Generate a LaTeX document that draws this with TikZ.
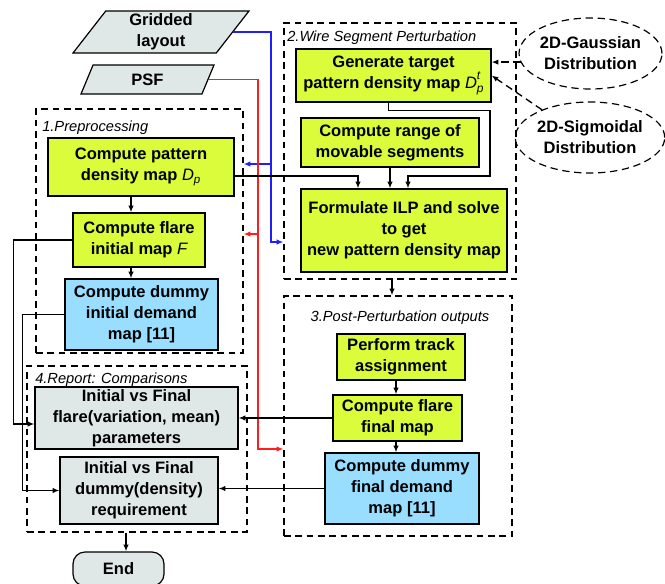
\documentclass[tikz,border=0pt]{standalone}
\usepackage{fontspec}
\setmainfont{Liberation Sans}
\usepackage{xcolor}
\usepackage{tikz}
\usetikzlibrary{shapes.geometric,arrows.meta,calc}

\definecolor{stepgreen}{RGB}{218,252,58}
\definecolor{dummyblue}{RGB}{153,221,255}
\definecolor{reportgray}{RGB}{224,231,231}
\definecolor{psfred}{RGB}{255,30,30}
\definecolor{gridblue}{RGB}{30,30,255}

\newcommand{\Dmap}{{\mdseries\itshape D\textsubscript{p}}}
\newcommand{\Dtarget}{{\mdseries\itshape D\rlap{\raisebox{1.0ex}{\fontsize{9}{9}\selectfont t}}\raisebox{-0.45ex}{\fontsize{9}{9}\selectfont p}}}

\begin{document}
\begin{tikzpicture}[x=0.75pt,y=0.75pt,yscale=-1,xscale=1,
  font=\fontsize{12.4}{15.7}\selectfont\bfseries,
  sz/.style 2 args={minimum width=#1*0.75pt,minimum height=#2*0.75pt},
  box/.style={draw,line width=0.9pt,inner sep=1pt,align=center},
  stepbox/.style={box,fill=stepgreen},
  dummybox/.style={box,fill=dummyblue},
  reportbox/.style={box,fill=reportgray},
  inbox/.style={trapezium,trapezium left angle=50,trapezium right angle=130,trapezium stretches body,draw,line width=0.9pt,fill=reportgray,inner sep=1pt,align=center},
  distr/.style={ellipse,draw,dash pattern=on 5.5pt off 3.5pt,line width=0.9pt,align=center,inner sep=0pt},
  grp/.style={draw,dash pattern=on 5pt off 3.5pt,line width=0.9pt},
  grplabel/.style={font=\fontsize{11}{13}\selectfont\itshape,inner sep=0pt},
  arr/.style={-{Latex[length=5pt,width=4pt]},line width=1pt}]

\useasboundingbox (0,0) rectangle (665,583);

\node[grp,sz={207}{244}] (g1) at (139.5,231) {};
\node[grp,sz={232}{256}] (g2) at (400,151) {};
\node[grp,sz={228}{240}] (g3) at (398,416) {};
\node[grp,sz={220}{166}] (g4) at (137,449) {};

\node[grplabel,anchor=base west] (g1t) at (42,131) {1.Preprocessing};
\node[grplabel,anchor=base west] (g2t) at (287,41) {2.Wire Segment Perturbation};
\node[grplabel,anchor=base] (g3t) at (400,321) {3.Post-Perturbation outputs};
\node[grplabel,anchor=base west] (g4t) at (35,383) {4.Report: Comparisons};

\node[inbox,sz={176}{42}] (grid) at (161,32) {Gridded\\layout};
\node[inbox,sz={133}{29}] (psf) at (147.5,79.5) {PSF};

\node[stepbox,sz={186}{58}] (cpd) at (141,167) {Compute pattern\\density map \Dmap};
\node[stepbox,sz={132}{54}] (cfi) at (139,240) {Compute flare\\initial map {\mdseries\itshape F}};
\node[dummybox,sz={153}{71}] (cdi) at (141.5,314.5) {Compute dummy\\initial demand\\map [11]};

\node[reportbox,sz={203}{62}] (rfl) at (136.5,418) {Initial vs Final\\flare(variation, mean)\\parameters};
\node[reportbox,sz={158}{67}] (rdm) at (139,490.5) {Initial vs Final\\dummy(density)\\requirement};
\node[reportbox,rounded corners=9pt,sz={91}{34}] (end) at (118.5,569) {End};

\node[stepbox,sz={195}{53}] (gen) at (393.5,75.5) {Generate target\\pattern density map \Dtarget};
\node[stepbox,sz={178}{49}] (rng) at (390,142.5) {Compute range of\\movable segments};
\node[stepbox,sz={206}{83}] (ilp) at (404,230.5) {Formulate ILP and solve\\to get\\new pattern density map};

\node[distr,sz={125}{71}] (gau) at (590.5,53.5) {2D-Gaussian\\Distribution};
\node[distr,sz={126}{71}] (sig) at (590,137.5) {2D-Sigmoidal\\Distribution};

\node[stepbox,sz={128}{46}] (trk) at (401,357) {Perform track\\assignment};
\node[stepbox,sz={129}{46}] (cff) at (397.5,418) {Compute flare\\final map};
\node[dummybox,sz={154}{71}] (cdf) at (402,488.5) {Compute dummy\\final demand\\map [11]};

\coordinate (bt) at (271,242);
\coordinate (bm) at (271,164);
\coordinate (rt) at (258,449);
\coordinate (rm) at (258,234);
\coordinate (gbend) at (490,176);

\draw[arr,gridblue] (grid.east) -| (bt) -- (bt -| g2.west);
\draw[arr,gridblue] (bm) -- (bm -| g1.east);
\draw[arr,psfred] (psf.east) -| (rt) -- (rt -| g3.west);
\draw[arr,psfred] (rm) -- (rm -| g1.east);

\draw[arr] ($(cpd.south)+(-10,0)$) -- ($(cfi.north)+(-8,0)$);
\draw[arr] ($(cfi.south)+(-8,0)$) -- ($(cdi.north)+(-10.5,0)$);
\draw[arr] (cfi.west) -- ++(-59,0) |- ($(rfl.west)+(0,6)$);
\draw[arr] (cdi.west) -- ++(-42,0) |- (rdm.west);

\draw[arr] ($(cpd.east)+(0,9)$) -| ($(ilp.north)+(-46,0)$);
\draw[arr] (rng.south) -- (rng.south |- ilp.north);
\draw[arr] ($(gen.south)+(-5,0)$) -- ++(0,8) -| (gbend) -| ($(ilp.north)+(4,0)$);
\draw[arr,dash pattern=on 5.5pt off 3.5pt] (gau.187) -- (gau.187 -| gen.east);
\draw[arr,dash pattern=on 5.5pt off 3.5pt] (sig.150) -- (gen.east);

\draw[arr] ($(g2.south)+(-8,0)$) -- ($(g3.north)+(-6,0)$);
\draw[arr] ($(trk.south)+(-5,0)$) -- ($(cff.north)+(-1.5,0)$);
\draw[arr] ($(cff.south)+(-1.5,0)$) -- ($(cdf.north)+(-6,0)$);
\draw[arr] (cff.west) -- (cff.west -| rfl.east);
\draw[arr] (cdf.west) -- (cdf.west -| rdm.east);
\draw[arr] ($(g4.south)+(-11,0)$) -- ($(end.north)+(7.5,0)$);

\end{tikzpicture}
\end{document}
